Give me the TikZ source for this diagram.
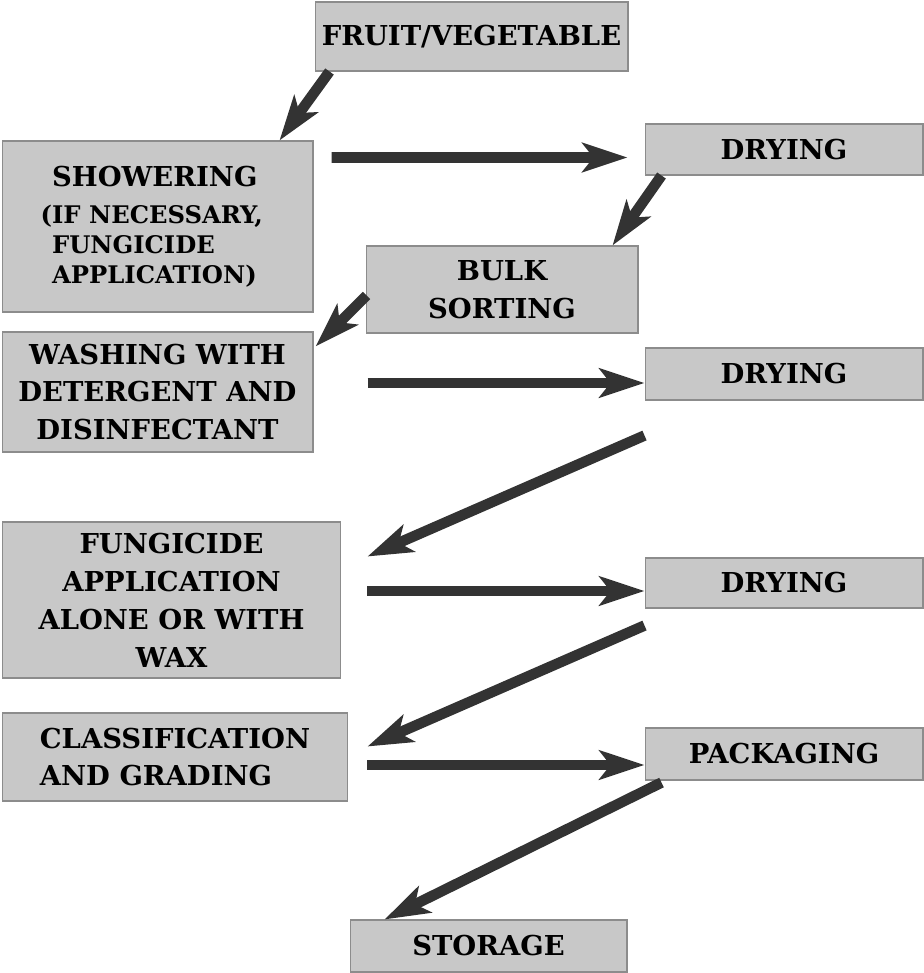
\documentclass[tikz,border=0pt]{standalone}
\usepackage{xcolor}
\usepackage{fontspec}
\setmainfont{DejaVu Serif}
\usepackage{tikz}
\usetikzlibrary{arrows.meta, positioning, calc}
\definecolor{boxfill}{HTML}{C8C8C8}
\definecolor{boxline}{HTML}{8C8C8C}
\definecolor{arrowgray}{HTML}{333333}
\newcommand{\stagefont}{\fontsize{15.6}{21.6}\selectfont\bfseries}
\newcommand{\notefont}{\fontsize{13.8}{17}\selectfont\bfseries}

\begin{document}
\begin{tikzpicture}[x=0.02cm, y=-0.02cm,
  stage/.style={rectangle, draw=boxline, line width=0.6pt, fill=boxfill,
                inner sep=0pt, font=\stagefont, text=black, align=center},
  arr/.style={-{Stealth[length=0.9cm, width=0.58cm, inset=0.22cm]},
              line width=6pt, color=arrowgray},
]
\useasboundingbox (0,0) rectangle (923,973);
\node[stage, minimum width=6.26cm, minimum height=1.38cm] (fv) at (471.5,36.5) {FRUIT/VEGETABLE};
\node[stage, minimum width=6.22cm, minimum height=3.42cm, align=left, font=\notefont] (sh) at (157.5,226.5)
  {{\stagefont SHOWERING}\\[4pt]\llap{(}IF NECESSARY,\\FUNGICIDE\\APPLICATION)};
\node[stage, minimum width=5.56cm, minimum height=1.02cm] (dr1) at (784,149.5) {DRYING};
\node[stage, minimum width=5.44cm, minimum height=1.74cm] (bs) at (502,289.5) {BULK\\SORTING};
\node[stage, minimum width=6.22cm, minimum height=2.4cm] (wa) at (157.5,392) {WASHING WITH\\DETERGENT AND\\DISINFECTANT};
\node[stage, minimum width=5.56cm, minimum height=1.04cm] (dr2) at (784,374) {DRYING};
\node[stage, minimum width=6.78cm, minimum height=3.12cm] (fa) at (171.5,600) {FUNGICIDE\\APPLICATION\\ALONE OR WITH\\WAX};
\node[stage, minimum width=5.56cm, minimum height=1.0cm] (dr3) at (784,583) {DRYING};
\node[stage, minimum width=6.92cm, minimum height=1.76cm, align=left] (cg) at (175,757) {CLASSIFICATION\\AND GRADING};
\node[stage, minimum width=5.56cm, minimum height=1.04cm] (pk) at (784,754) {PACKAGING};
\node[stage, minimum width=5.54cm, minimum height=1.04cm] (st) at (488.5,946) {STORAGE};
\draw[arr] ($(fv.south west)+(15,0)$) -- ($(sh.north east)+(-34,0)$);
\draw[arr] ($(sh.north east)+(18,17)$) -- ($(dr1.west)+(-17,8)$);
\draw[arr] ($(dr1.south west)+(17,0)$) -- ($(bs.north east)+(-26,0)$);
\draw[arr] ($(bs.west)+(1,6)$) -- ($(wa.north east)+(2,15)$);
\draw[arr] ($(wa.east)+(54,-9)$) -- ($(dr2.west)+(0,9)$);
\draw[arr] ($(dr2.south west)+(0,35)$) -- ($(fa.north east)+(26,35)$);
\draw[arr] ($(fa.east)+(26,-9)$) -- ($(dr3.west)+(0,8)$);
\draw[arr] ($(dr3.south west)+(0,17)$) -- ($(cg.north east)+(19,34)$);
\draw[arr] ($(cg.east)+(19,8)$) -- ($(pk.west)+(0,11)$);
\draw[arr] ($(pk.south west)+(17,2)$) -- ($(st.north west)+(35,0)$);
\end{tikzpicture}
\end{document}
